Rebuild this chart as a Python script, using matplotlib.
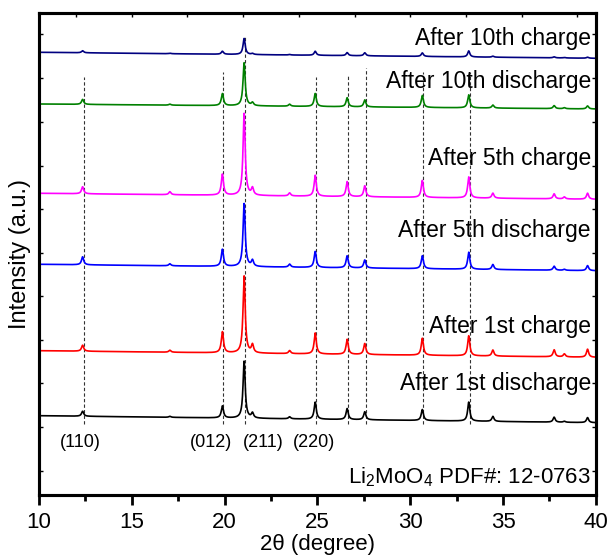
import numpy as np
import matplotlib
matplotlib.use('Agg')
import matplotlib.pyplot as plt
from matplotlib.ticker import MultipleLocator, FixedLocator, NullFormatter

plt.rcParams['font.family'] = ['Liberation Sans', 'DejaVu Sans']
plt.rcParams['mathtext.fontset'] = 'custom'
plt.rcParams['mathtext.rm'] = 'Liberation Sans'
plt.rcParams['mathtext.default'] = 'regular'

# ---- data ----
peak_pos = [12.35, 17.05, 19.88, 21.05, 21.5, 23.5, 24.88, 26.6, 27.55, 30.65, 33.15, 34.45, 37.75, 38.3, 39.55]

labels = ["After 1st discharge", "After 1st charge", "After 5th discharge",
          "After 5th charge", "After 10th discharge", "After 10th charge"]
colors = ['#000000', '#FF0000', '#0000FF', '#FF00FF', '#008000', '#000080']

base_left = [79.3, 144.3, 230.7, 301.7, 391.0, 442.7]
base_right = [72.3, 137.7, 224.3, 295.7, 386.0, 436.7]

h_1st_discharge = [5, 1, 12, 57, 5, 2, 17, 11, 8, 11, 19, 5, 5, 1, 5]
h_1st_charge = [6, 2, 21, 77, 8, 3, 21, 15, 11, 17, 20, 6, 7, 3, 8]
h_5th_discharge = [8, 2, 17, 63, 6, 3, 16, 12, 8, 13, 17, 5, 4, 1, 5]
h_5th_charge = [7, 3, 21, 82, 7, 3, 21, 15, 11, 17, 21, 5, 5, 2, 6]
h_10th_discharge = [5, 1, 12, 43, 3, 2, 13, 9, 7, 12, 13, 3, 3, 1, 3]
h_10th_charge = [2, 0.5, 3, 16, 1, 0.5, 4, 3, 3, 3.5, 6, 1, 1, 0.5, 1]
heights = [h_1st_discharge, h_1st_charge, h_5th_discharge,
           h_5th_charge, h_10th_discharge, h_10th_charge]

label_y = [105, 162, 258, 330, 407, 450]

ref_pos = [12.4, 19.9, 21.12, 24.9, 26.62, 27.6, 30.7, 33.2]
ref_top = [418, 423, 458, 418, 419, 427, 423, 423]
ref_bottom = 71

hkl = ['(110)', '(012)', '(211)', '(220)']
hkl_x = [12.25, 19.25, 22.1, 24.83]
hkl_y = 48

# ---- figure ----
fig = plt.figure(figsize=(6.1, 5.58), dpi=100)
ax = fig.add_axes([0.0639, 0.1129, 0.913, 0.8638])

x = np.linspace(10, 40, 3001)
gamma = 0.07
for hs, bl, br, c in zip(heights, base_left, base_right, colors):
    y = bl + (br - bl) * (x - 10) / 30.0
    for p, h in zip(peak_pos, hs):
        y = y + h * gamma**2 / ((x - p)**2 + gamma**2)
    ax.plot(x, y, color=c, lw=1.2, zorder=3)

for p, t in zip(ref_pos, ref_top):
    ax.plot([p, p], [ref_bottom, t], color='#333333', lw=0.8,
            ls=(0, (3, 2)), zorder=2)

for lab, ly in zip(labels, label_y):
    ax.text(39.73, ly, lab, ha='right', va='baseline', fontsize=16.5, zorder=4)

for t, hx in zip(hkl, hkl_x):
    ax.text(hx, hkl_y, t, ha='center', va='baseline', fontsize=13)

ax.text(39.73, 12, r'Li$_2$MoO$_4$ PDF#: 12-0763', ha='right', va='baseline', fontsize=16)

ax.set_xlim(10, 40)
ax.set_ylim(0, 482)

ax.xaxis.set_major_locator(MultipleLocator(5))
ax.xaxis.set_minor_locator(MultipleLocator(2.5))
ax.tick_params(axis='x', which='major', direction='out', length=7, width=2,
               labelsize=16, pad=5, top=False)
ax.tick_params(axis='x', which='minor', direction='out', length=4, width=2, top=False)

yt = [24, 68, 112, 155, 199, 242, 286, 329, 373, 417, 461]
ax.yaxis.set_major_locator(FixedLocator(yt))
ax.yaxis.set_major_formatter(NullFormatter())
ax.tick_params(axis='y', which='major', direction='in', length=3, width=1,
               left=True, right=True)

ax2 = ax.twiny()
ax2.set_xlim(10, 40)
ax2.xaxis.set_major_locator(MultipleLocator(3))
ax2.xaxis.set_major_formatter(NullFormatter())
ax2.tick_params(axis='x', direction='in', length=3, width=1, top=True, bottom=False)

for a in (ax, ax2):
    for s in a.spines.values():
        s.set_linewidth(2.2)

ax.set_xlabel('2θ (degree)', fontsize=16, labelpad=1)
ax.set_ylabel('Intensity (a.u.)', fontsize=17, labelpad=2)

fig.savefig('out.png', dpi=100)
